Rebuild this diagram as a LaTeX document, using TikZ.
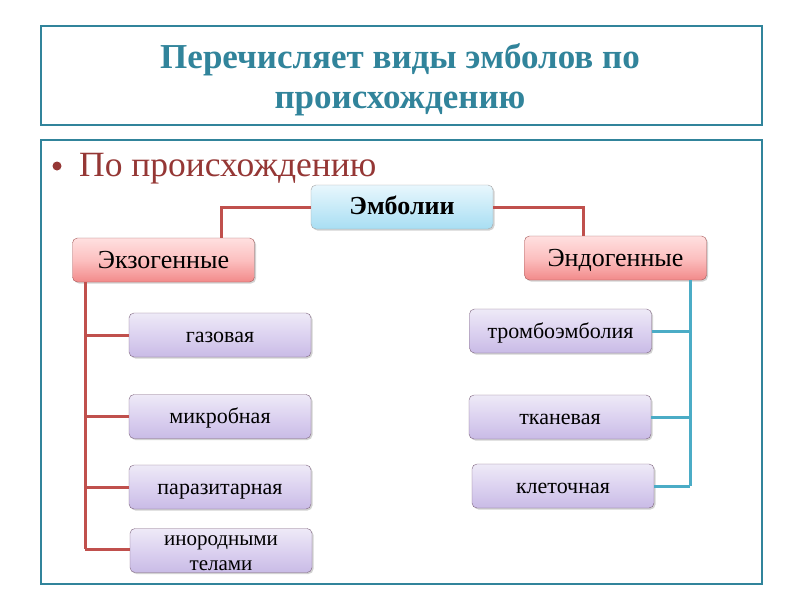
\documentclass[tikz,border=0pt]{standalone}
\usepackage{fontspec}
\setmainfont{Liberation Serif}
\usetikzlibrary{shadows}
\definecolor{teal1}{HTML}{31849B}
\definecolor{redtxt}{HTML}{953735}
\definecolor{redline}{HTML}{C0504D}
\definecolor{tealline}{HTML}{4BACC6}
\definecolor{purtop}{HTML}{EEEAF7}
\definecolor{purmid}{HTML}{DCD2F0}
\definecolor{purbot}{HTML}{C9BBE6}
\definecolor{pinktop}{HTML}{FFE0E0}
\definecolor{pinkmid}{HTML}{FCC0C0}
\definecolor{pinkbot}{HTML}{F28A8A}
\definecolor{bluetop}{HTML}{E8F7FD}
\definecolor{bluebot}{HTML}{A8DEF3}
\tikzset{
  box/.style={rounded corners=5pt, minimum width=182pt, minimum height=44pt, align=center, inner sep=2pt, drop shadow={shadow xshift=1.5pt, shadow yshift=-1.5pt, opacity=0.35}},
  bluebox/.style={box, draw=gray!70, top color=bluetop, bottom color=bluebot, font=\fontsize{26}{28}\selectfont\bfseries, text height=18pt, text depth=4pt},
  pinkbox/.style={box, draw=gray!70!red, top color=pinktop, bottom color=pinkbot, middle color=pinkmid, font=\fontsize{26}{28}\selectfont, text height=21pt, text depth=5pt},
  purplebox/.style={box, draw=gray!80!violet, top color=purtop, bottom color=purbot, middle color=purmid, font=\fontsize{22}{24}\selectfont, text height=19pt, text depth=5pt},
  redconn/.style={draw=redline, line width=3pt},
  tealconn/.style={draw=tealline, line width=3pt},
}
\begin{document}
\begin{tikzpicture}[x=1pt,y=-1pt]
\useasboundingbox (0,0) rectangle (800,600);
\fill[white] (0,0) rectangle (800,600);
% frames
\draw[teal1, line width=2pt] (41,26) rectangle (762,125);
\draw[teal1, line width=2pt] (41,140) rectangle (762,584);
\node[font=\fontsize{35}{40}\selectfont\bfseries, text=teal1, align=center] (title) at (400,80) {Перечисляет виды эмболов по\\происхождению};
% bullet
\fill[redtxt] (57,166) circle (4.5pt);
\node[anchor=west, font=\fontsize{35.5}{38}\selectfont, text=redtxt, inner sep=0pt] (sub) at (79,169) {По происхождению};
% nodes
\node[bluebox] (emb) at (402,207) {Эмболии};
\node[pinkbox] (exo) at (163.5,260) {Экзогенные};
\node[pinkbox] (endo) at (615.5,258) {Эндогенные};
\node[purplebox] (gaz) at (220,335) {газовая};
\node[purplebox] (mic) at (220,416.5) {микробная};
\node[purplebox] (par) at (220,487) {паразитарная};
\node[purplebox] (ino) at (221,550.5) {};
\node[font=\fontsize{21}{25}\selectfont, align=center, inner sep=0pt] (inotxt) at (221,553) {инородными\\телами};
\node[purplebox] (tro) at (560.5,331) {тромбоэмболия};
\node[purplebox] (tka) at (560,417) {тканевая};
\node[purplebox] (kle) at (563,486) {клеточная};
% connectors
\draw[redconn] (emb.west) -| (221,0 |- exo.north);
\draw[redconn] (emb.east) -| (endo.north -| 583,0);
\coordinate (lt) at (85,0 |- exo.south);
\coordinate (lb) at (85,549);
\draw[redconn] (lt) -- (lb);
\draw[redconn] (85,0 |- gaz.west) -- (gaz.west);
\draw[redconn] (85,0 |- mic.west) -- (mic.west);
\draw[redconn] (85,0 |- par.west) -- (par.west);
\draw[redconn] (lb) -- (ino.west |- lb);
\coordinate (rt) at (690,0 |- endo.south);
\coordinate (rb) at (690,0 |- kle.east);
\draw[tealconn] (rt) -- (rb);
\draw[tealconn] (tro.east) -- (690,0 |- tro.east);
\draw[tealconn] (tka.east) -- (690,0 |- tka.east);
\draw[tealconn] (kle.east) -- (rb);
\end{tikzpicture}
\end{document}
